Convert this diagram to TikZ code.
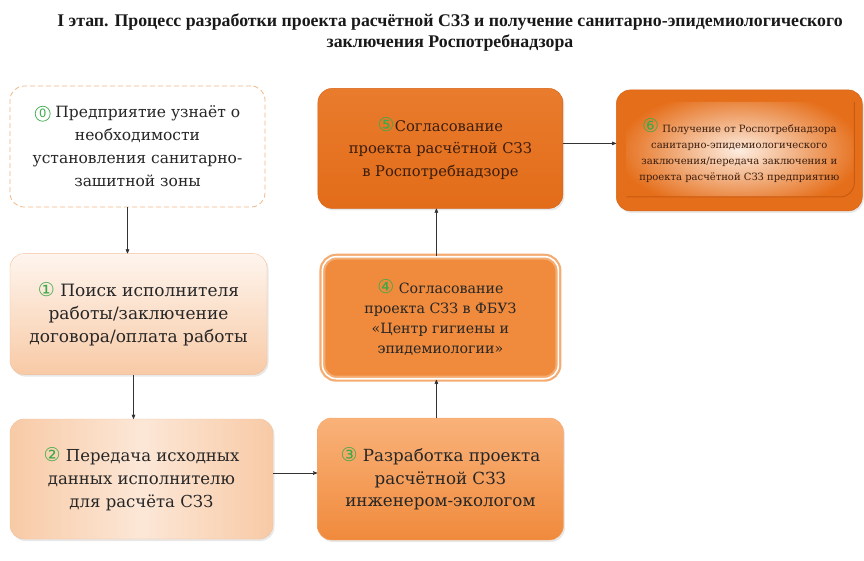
\documentclass[tikz,border=0pt]{standalone}
\usepackage{fontspec}
\setmainfont{DejaVu Serif}
\newfontfamily\titlefont{Liberation Serif}
\newfontfamily\numfont{DejaVu Sans}
\usetikzlibrary{arrows,positioning,shadows}

\definecolor{stepgreen}{HTML}{3BAA4A}
\definecolor{peach}{HTML}{F8CAA6}
\definecolor{peachlight}{HTML}{FEF5EE}
\definecolor{peachedge}{HTML}{F2C09C}
\definecolor{dashedge}{HTML}{F0B888}
\definecolor{orlight}{HTML}{F9B27A}
\definecolor{ormid}{HTML}{F08A3C}
\definecolor{ordark}{HTML}{E56E1A}
\definecolor{ordeep}{HTML}{C85A10}
\definecolor{ringedge}{HTML}{F4AC72}
\definecolor{textbrown}{HTML}{3A1C0C}

% green circled step number
\newcommand\stepno[1]{{\numfont\fontsize{19}{19}\selectfont\color{stepgreen}#1}}
% zero has no glyph, so draw the circle
\newcommand\stepzero{\tikz[baseline=(z.base)]\node[circle, solid, draw=stepgreen, fill=white,
    line width=0.7pt, inner sep=0pt, minimum size=15pt, text=stepgreen,
    font=\numfont\fontsize{11.5}{11.5}\selectfont] (z) {0};}

\tikzset{
    %Define standard arrow tip
    >=stealth',
    %Define style for boxes
    stage/.style={
           rectangle,
           rounded corners=14pt,
           align=center,
           text=black!85,
           font=\fontsize{15.5}{23}\selectfont},
    shadowed/.style={
           drop shadow={opacity=0.18, shadow xshift=1.5pt, shadow yshift=-2pt}},
    titletext/.style={
           align=center,
           text=black!90,
           font=\titlefont\bfseries\fontsize{17.8}{21}\selectfont},
    % Define arrow style
    arrow/.style={
           ->,
           semithick,
           draw=black!80},
}

\begin{document}
\begin{tikzpicture}[x=1pt,y=-1pt]
  \useasboundingbox (0,0) rectangle (864,560);
  \node[titletext] (title) at (450,33)
       {I этап. Процесс разработки проекта расчётной СЗЗ и получение санитарно-эпидемиологического\\
        заключения Роспотребнадзора};

  \node[stage, fill=white, draw=dashedge, thick, dash pattern=on 5pt off 3pt,
        minimum width=255pt, minimum height=121pt] (s0) at (137.5,146.5)
       {\stepzero\ Предприятие узнаёт о\\необходимости\\установления санитарно-\\зашитной зоны};
  \node[stage, shadowed, top color=peachlight, bottom color=peach, draw=peachedge,
        font=\fontsize{17}{23}\selectfont,
        minimum width=257pt, minimum height=121pt, below=46pt of s0, xshift=1pt] (s1)
       {\stepno{①} Поиск исполнителя\\работы/заключение\\договора/оплата работы};
  \node[stage, shadowed, left color=peach, right color=peach, middle color=peach!45!white, draw=peachedge,
        font=\fontsize{16.5}{23}\selectfont,
        minimum width=263pt, minimum height=120pt, below=44pt of s1, xshift=3pt] (s2)
       {\stepno{②} Передача исходных\\данных исполнителю\\для расчёта СЗЗ};
  \node[stage, shadowed, top color=orlight, bottom color=ormid, draw=orlight!70!ormid,
        font=\fontsize{16.7}{22.5}\selectfont,
        minimum width=246pt, minimum height=122pt, right=44pt of s2] (s3)
       {\stepno{③} Разработка проекта\\расчётной СЗЗ\\инженером-экологом};
  \node[stage, shadowed, fill=ormid, draw=ringedge, line width=2.2pt, double=white, double distance=1.6pt,
        font=\fontsize{14.2}{20}\selectfont,
        minimum width=236pt, minimum height=122pt, above=38pt of s3] (s4)
       {\stepno{④} Согласование\\проекта СЗЗ в ФБУЗ\\«Центр гигиены и\\эпидемиологии»};
  \node[stage, shadowed, top color=ordark!80!orlight, bottom color=ordark!90!ordeep, draw=ordeep!60!ordark,
        text=textbrown, font=\fontsize{14.7}{22.5}\selectfont,
        minimum width=245pt, minimum height=120pt, above=47pt of s4] (s5)
       {\stepno{⑤}Согласование\\проекта расчётной СЗЗ\\в Роспотребнадзоре};
  \node[stage, shadowed, fill=ordark, draw=ordeep!60!ordark, text=textbrown,
        font=\fontsize{10}{16}\selectfont,
        minimum width=246pt, minimum height=121pt, right=53pt of s5, yshift=-2pt,
        path picture={
          \shade[inner color=peachlight!80!peach, outer color=ordark]
             ([shift={(10pt,-12pt)}]path picture bounding box.north west) rectangle
             ([shift={(-8pt,14pt)}]path picture bounding box.south east);
          \draw[ordeep, line width=1pt]
             ([shift={(10pt,14pt)}]path picture bounding box.south west) -|
             ([shift={(-8pt,-12pt)}]path picture bounding box.north east);
        }] (s6)
       {\stepno{⑥} Получение от Роспотребнадзора\\санитарно-эпидемиологического\\заключения/передача заключения и\\проекта расчётной СЗЗ предприятию};

  \draw[arrow] ([xshift=-10pt]s0.south) -- ([xshift=-10pt]s0.south |- s1.north);
  \draw[arrow] ([xshift=-5pt]s1.south) -- ([xshift=-5pt]s1.south |- s2.north);
  \draw[arrow] ([yshift=6pt]s2.east) -- ([yshift=6pt]s2.east -| s3.west);
  \draw[arrow] ([xshift=-4pt]s3.north) -- ([xshift=-4pt]s3.north |- s4.south);
  \draw[arrow] ([xshift=-4pt]s4.north) -- ([xshift=-4pt]s4.north |- s5.south);
  \draw[arrow] ([yshift=5pt]s5.east) -- ([yshift=5pt]s5.east -| s6.west);
\end{tikzpicture}
\end{document}
